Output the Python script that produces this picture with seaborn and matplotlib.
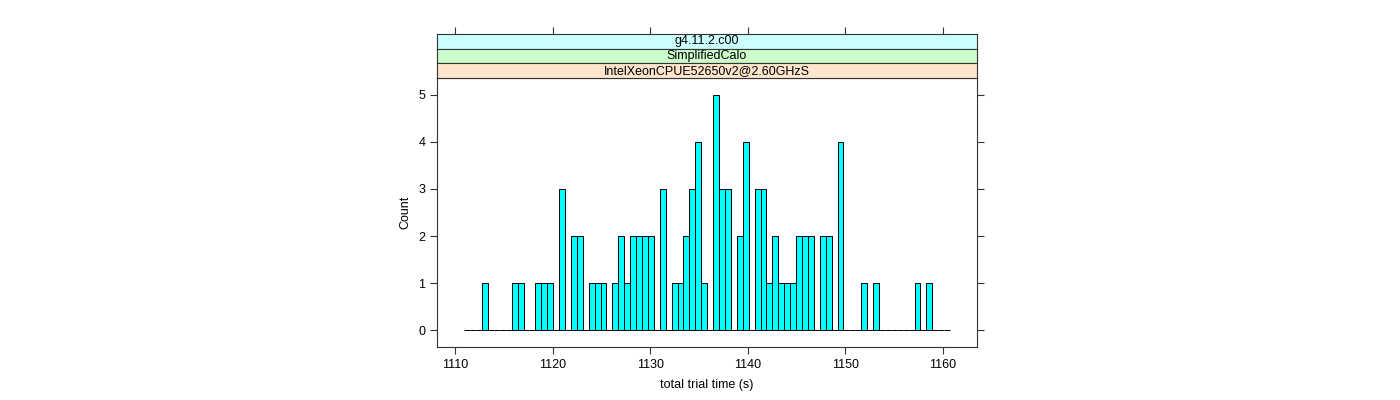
import numpy as np
import pandas as pd
import matplotlib
matplotlib.use("Agg")
import matplotlib.pyplot as plt
import seaborn as sns

# ---- data ----
bin_lo = 1110.92
bin_hi = 1160.76
n_bins = 82
counts = [0, 0, 0, 1, 0, 0, 0, 0, 1, 1,
          0, 0, 1, 1, 1, 0, 3, 0, 2, 2,
          0, 1, 1, 1, 0, 1, 2, 1, 2, 2,
          2, 2, 0, 3, 0, 1, 1, 2, 3, 4,
          1, 0, 5, 3, 3, 0, 2, 4, 0, 3,
          3, 1, 2, 1, 1, 1, 2, 2, 2, 0,
          2, 2, 0, 4, 0, 0, 0, 1, 0, 1,
          0, 0, 0, 0, 0, 0, 1, 0, 1, 0,
          0, 0]
strip_labels = ["g4.11.2.c00", "SimplifiedCalo", "IntelXeonCPUE52650v2@2.60GHzS"]
strip_colors = ["#CCFFFF", "#CCFFCC", "#FFE5CC"]
x_ticks = [1110, 1120, 1130, 1140, 1150, 1160]
y_ticks = [0, 1, 2, 3, 4, 5]
x_label = "total trial time (s)"
y_label = "Count"

edges = np.linspace(bin_lo, bin_hi, n_bins + 1)
centers = (edges[:-1] + edges[1:]) / 2
df = pd.DataFrame({"time": centers, "n": counts})

plt.rcParams["font.family"] = ["Liberation Sans", "DejaVu Sans"]
fs = 9

fig = plt.figure(figsize=(14, 4), dpi=100)
W, H = 1400, 400
L, R = 437, 977
panel_top, panel_bot = 78, 347
strip_top = 34
ax = fig.add_axes([L / W, 1 - panel_bot / H, (R - L) / W, (panel_bot - panel_top) / H])

sns.histplot(data=df, x="time", weights="n", bins=n_bins, binrange=(bin_lo, bin_hi),
             stat="count", color="#00FFFF", edgecolor="black", linewidth=0.7,
             alpha=1.0, ax=ax)

xlim = (1108.12, 1163.52)
ax.set_xlim(*xlim)
ax.set_ylim(-0.35, 5.35)
ax.set_xticks(x_ticks)
ax.set_yticks(y_ticks)
ax.tick_params(axis="both", direction="out", length=5, width=0.8, labelsize=fs,
               color="#333333")
ax.tick_params(axis="y", right=True, labelright=False)
ax.tick_params(axis="x", top=False)
ax.set_xlabel(x_label, fontsize=fs, labelpad=6)
ax.set_ylabel(y_label, fontsize=fs, labelpad=5)
for s in ax.spines.values():
    s.set_color("#333333")
    s.set_linewidth(0.8)

# strips
sh = (panel_top - strip_top) / 3
for i, (lab, col) in enumerate(zip(strip_labels, strip_colors)):
    top = strip_top + i * sh
    sax = fig.add_axes([L / W, 1 - (top + sh) / H, (R - L) / W, sh / H])
    sax.set_facecolor(col)
    sax.set_xlim(*xlim)
    sax.set_ylim(0, 1)
    sax.set_yticks([])
    if i == 0:
        sax.set_xticks(x_ticks)
        sax.tick_params(axis="x", bottom=False, top=True, labelbottom=False,
                        direction="out", length=5, width=0.8, color="#333333")
    else:
        sax.set_xticks([])
    sax.text(0.5, 0.5, lab, transform=sax.transAxes, ha="center", va="center",
             fontsize=fs)
    for s in sax.spines.values():
        s.set_color("#333333")
        s.set_linewidth(0.8)

fig.savefig("out.png", dpi=100)
